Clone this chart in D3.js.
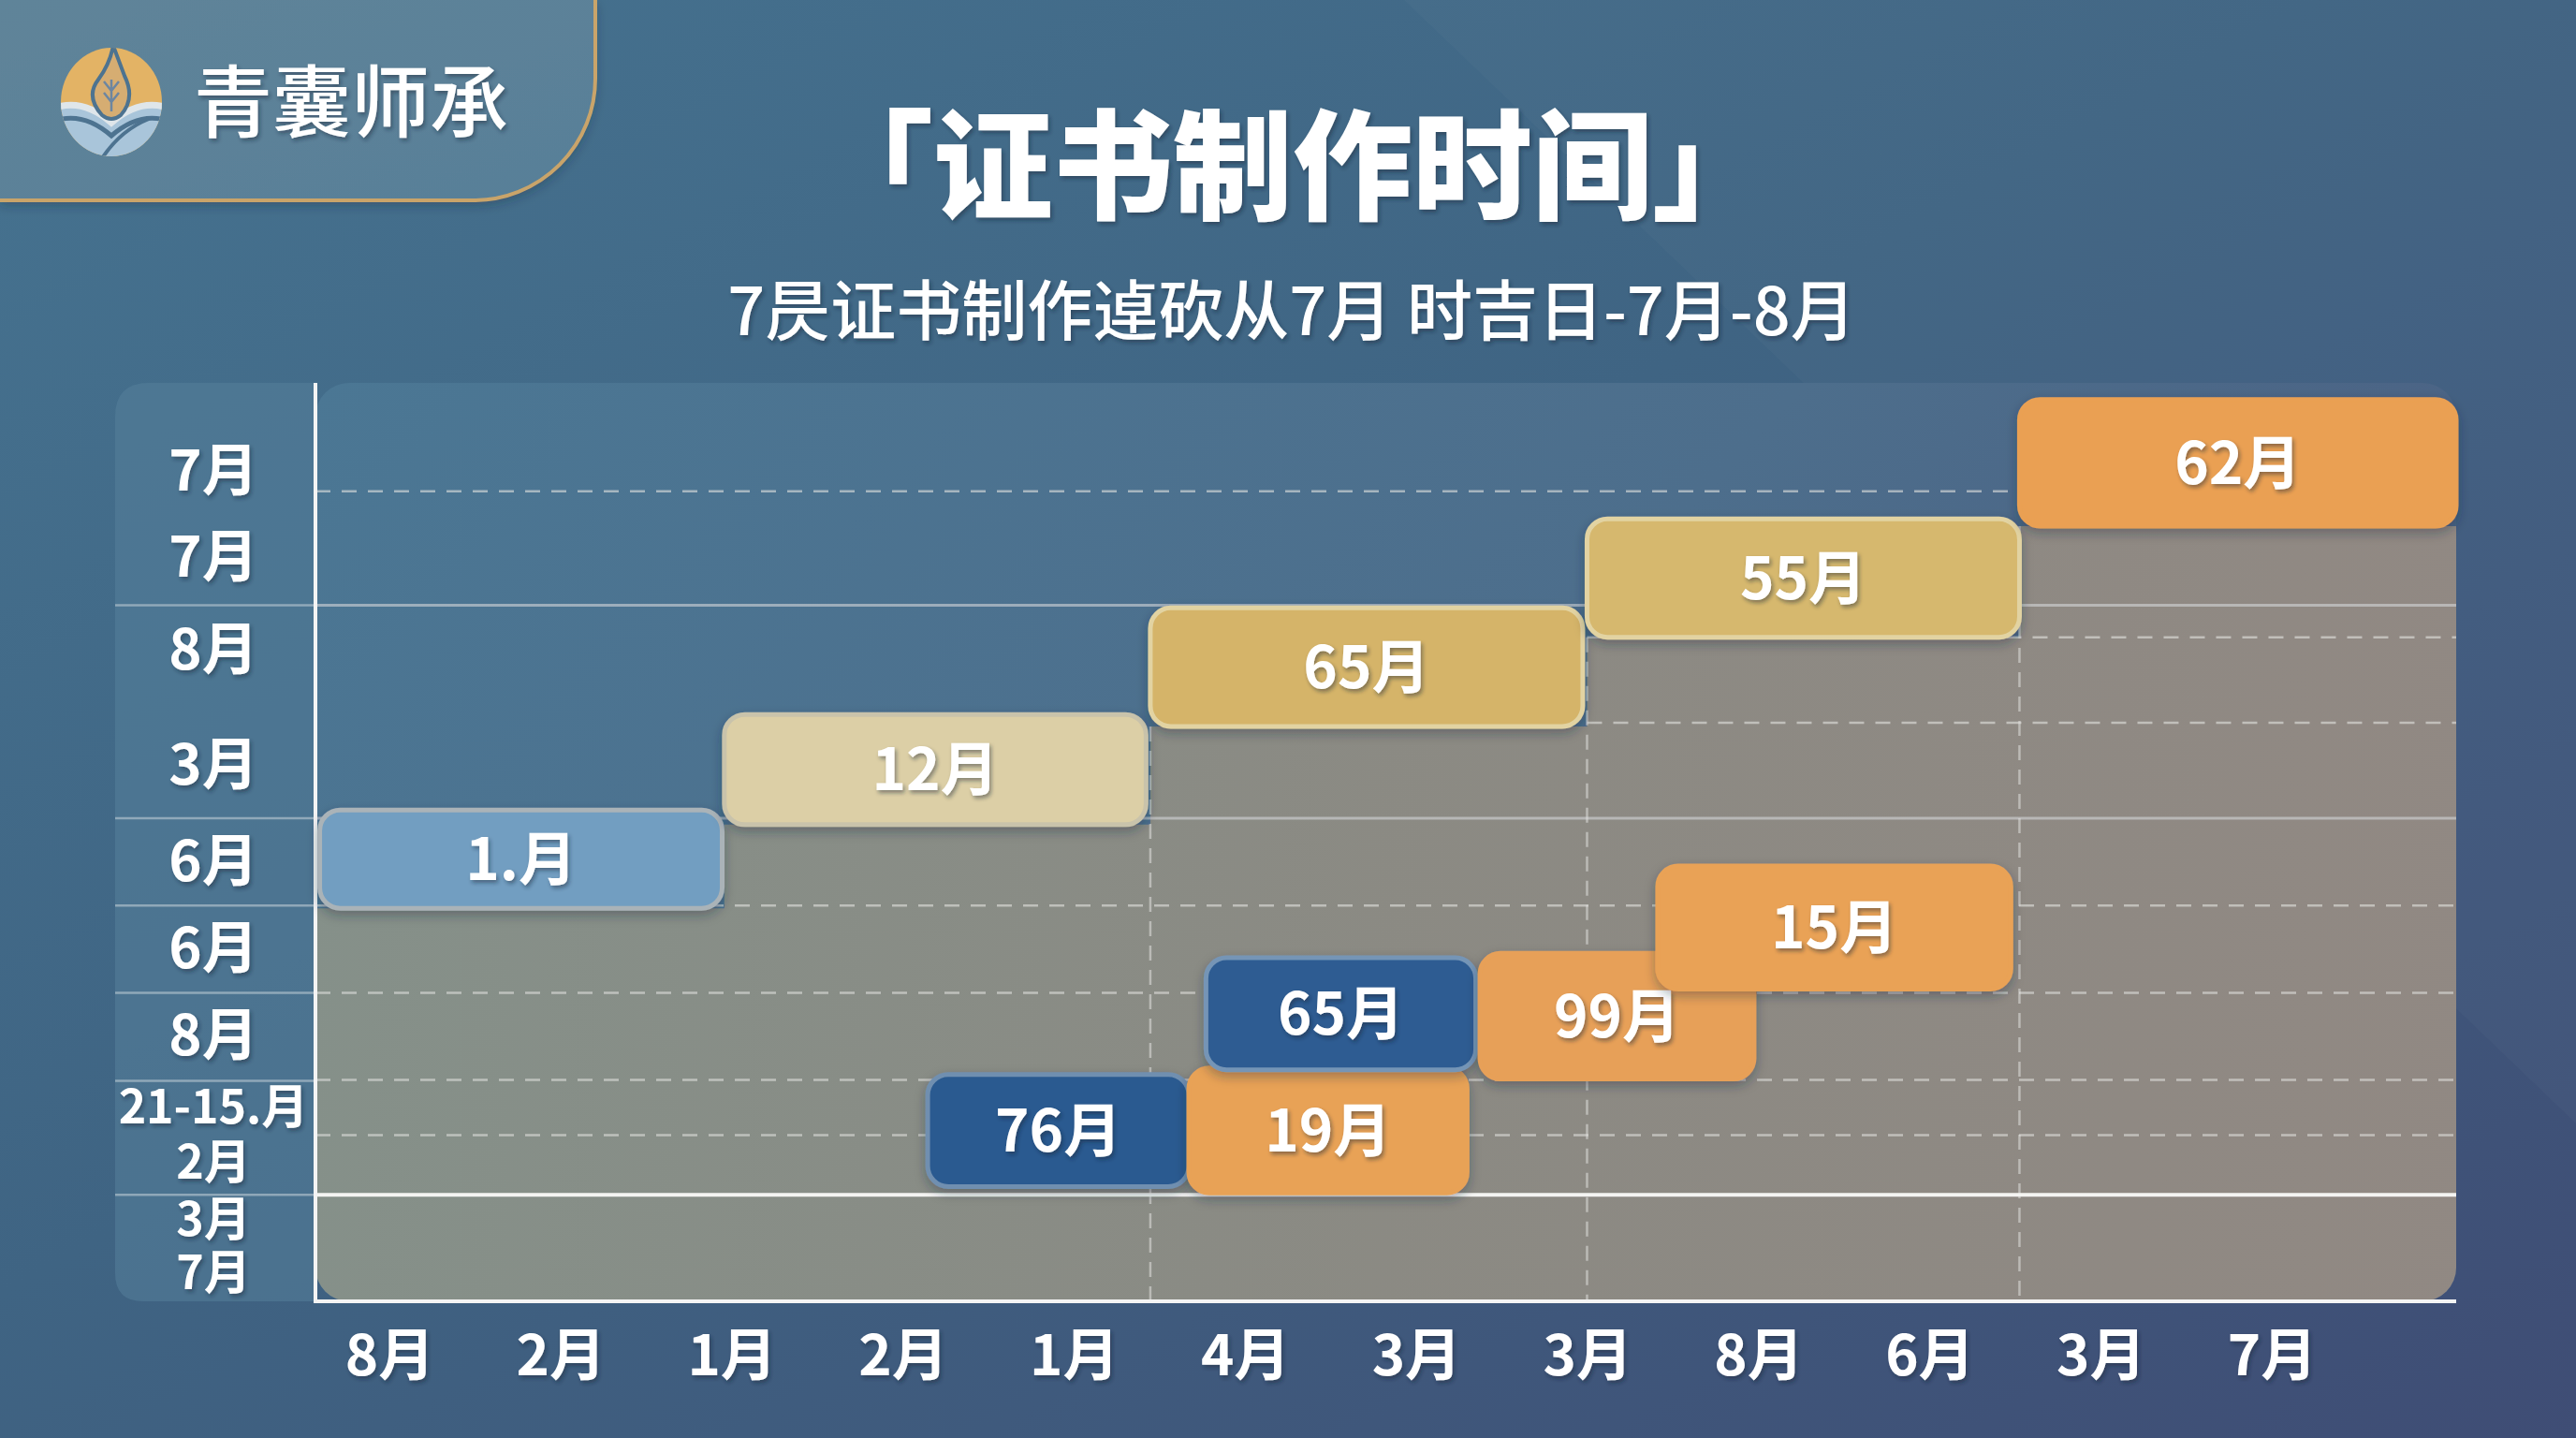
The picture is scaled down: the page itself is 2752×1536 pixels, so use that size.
<!DOCTYPE html>
<html>
<head>
<meta charset="utf-8">
<title>证书制作时间</title>
<style>
    body { margin: 0; background: #3f6584; }
    svg { display: block; }
    .ylab text, .xlab text {
        font-family: "Noto Sans CJK SC", "Noto Sans", sans-serif;
        font-weight: 700;
        fill: #ffffff;
    }
</style>
</head>
<body>
<script src="https://cdn.jsdelivr.net/npm/d3@7/dist/d3.min.js"></script>
<script type="text/javascript">
    // ---- data ----
    var yTickLabels = ["7月", "7月", "8月", "3月", "6月", "6月", "8月", "21-15.月", "2月", "3月", "7月"];
    var yTickValues = [9.03, 8.09, 7.08, 5.83, 4.78, 3.83, 2.88, 2.10, 1.50, 0.88, 0.30];
    var xTickLabels = ["8月", "2月", "1月", "2月", "1月", "4月", "3月", "3月", "8月", "6月", "3月", "7月"];

    // upper staircase of bars
    var stepLabels = ["1.月", "12月", "65月", "55月", "62月"];
    var stepStart = [0.01, 0.955, 1.95, 2.97, 3.98];
    var stepEnd = [0.95, 1.94, 2.96, 3.98, 5.0];
    var stepTop = [5.35, 6.39, 7.55, 8.52, 9.82];
    var stepBottom = [4.28, 5.19, 6.26, 7.23, 8.44];
    var stepColors = ["#729ec1", "#dccfa6", "#d5b469", "#d6b86e", "#eaa052"];
    var stepStroke = ["#aab3b8", "#c9c3ab", "#e2d3a2", "#e2d3a2", "#eaa052"];

    // lower bars
    var lowLabels = ["76月", "19月", "65月", "99月", "15月"];
    var lowStart = [1.43, 2.04, 2.08, 2.72, 3.135];
    var lowEnd = [2.04, 2.69, 2.71, 3.36, 3.96];
    var lowTop = [2.47, 2.54, 3.74, 3.79, 4.74];
    var lowBottom = [1.25, 1.18, 2.52, 2.42, 3.40];
    var lowColors = ["#2c5a90", "#e8a257", "#2d5c92", "#e7a058", "#e9a256"];
    var lowStroke = ["#6f8fb0", "#e8a257", "#7595b6", "#e7a058", "#e9a256"];

    // grid rows
    var columnRows = [7.58, 5.26, 4.31, 3.36, 2.40, 1.16];
    var plotSolidRows = [7.58, 5.26];
    var dashRows = [8.82, 7.23, 6.30, 4.31, 3.36, 2.41, 1.81];
    var dashFrom = [0, 2.97, 2.97, 0, 0, 0, 0];
    var baseRow = 1.16;

    // ---- layout ----
    var W = 2752, H = 1536;
    var panelLeft = 123, plotLeft = 337, plotRight = 2624, plotTop = 409, plotBottom = 1390;
    var font = '"Noto Sans CJK SC", "Noto Sans", sans-serif';

    var x = d3.scaleLinear().domain([0, 5]).range([plotLeft, plotRight]);
    var y = d3.scaleLinear().domain([0, 10]).range([plotBottom, plotTop]);
    var xLab = d3.scalePoint().domain(d3.range(xTickLabels.length)).range([416, 2427]);

    var svg = d3.select("body").append("svg")
        .attr("width", W)
        .attr("height", H);

    var defs = svg.append("defs");

    var bg = defs.append("linearGradient").attr("id", "bg")
        .attr("x1", 0).attr("y1", 0).attr("x2", 1).attr("y2", 1);
    bg.append("stop").attr("offset", 0).attr("stop-color", "#467390");
    bg.append("stop").attr("offset", 0.45).attr("stop-color", "#3f6483");
    bg.append("stop").attr("offset", 1).attr("stop-color", "#3f4d75");

    var plotBlue = defs.append("linearGradient").attr("id", "plotBlue")
        .attr("x1", 0).attr("y1", 0).attr("x2", 1).attr("y2", 0.4);
    plotBlue.append("stop").attr("offset", 0).attr("stop-color", "#4b7794");
    plotBlue.append("stop").attr("offset", 0.6).attr("stop-color", "#4d6e8c");
    plotBlue.append("stop").attr("offset", 1).attr("stop-color", "#4a5f82");

    var grayFill = defs.append("linearGradient").attr("id", "grayFill")
        .attr("x1", 0).attr("y1", 0).attr("x2", 1).attr("y2", 0);
    grayFill.append("stop").attr("offset", 0).attr("stop-color", "#879189");
    grayFill.append("stop").attr("offset", 0.5).attr("stop-color", "#8d8b83");
    grayFill.append("stop").attr("offset", 1).attr("stop-color", "#938a83");

    var logoBg = defs.append("linearGradient").attr("id", "logoBg")
        .attr("x1", 0).attr("y1", 0).attr("x2", 1).attr("y2", 1);
    logoBg.append("stop").attr("offset", 0).attr("stop-color", "#5f8499");
    logoBg.append("stop").attr("offset", 1).attr("stop-color", "#587f98");

    var shadow = defs.append("filter").attr("id", "shadow")
        .attr("x", "-20%").attr("y", "-30%").attr("width", "140%").attr("height", "170%");
    shadow.append("feDropShadow").attr("dx", 0).attr("dy", 5).attr("stdDeviation", 6)
        .attr("flood-color", "#1d2a3a").attr("flood-opacity", 0.35);

    var textShadow = defs.append("filter").attr("id", "textShadow")
        .attr("x", "-10%").attr("y", "-20%").attr("width", "120%").attr("height", "150%");
    textShadow.append("feDropShadow").attr("dx", 2).attr("dy", 3).attr("stdDeviation", 2)
        .attr("flood-color", "#1c2633").attr("flood-opacity", 0.45);

    defs.append("clipPath").attr("id", "plotClip")
        .append("rect")
        .attr("x", plotLeft).attr("y", plotTop)
        .attr("width", plotRight - plotLeft).attr("height", plotBottom - plotTop)
        .attr("rx", 36);

    // background
    svg.append("rect").attr("width", W).attr("height", H).attr("fill", "url(#bg)");
    svg.append("path")
        .attr("d", "M1500,0 L2752,0 L2752,1200 Z")
        .attr("fill", "#ffffff").attr("opacity", 0.025);

    // ---- logo panel ----
    svg.append("path")
        .attr("d", "M0,0 H636 V84 A130,130 0 0 1 506,214 H0 Z")
        .attr("fill", "url(#logoBg)")
        .attr("filter", "url(#shadow)");
    svg.append("path")
        .attr("d", "M636,0 V84 A130,130 0 0 1 506,214 H0")
        .attr("fill", "none")
        .attr("stroke", "#c9a46a")
        .attr("stroke-width", 4);

    var logo = svg.append("g").attr("transform", "translate(119,109)");
    defs.append("clipPath").attr("id", "logoClip")
        .append("ellipse").attr("cx", 0).attr("cy", 0).attr("rx", 54).attr("ry", 58);
    var lg = logo.append("g").attr("clip-path", "url(#logoClip)");
    lg.append("rect").attr("x", -60).attr("y", -60).attr("width", 120).attr("height", 120).attr("fill", "#e3b365");
    lg.append("path").attr("d", "M-60,6 Q-30,-4 0,22 Q30,-4 60,6 V60 H-60 Z").attr("fill", "#a9c5da");
    lg.append("path").attr("d", "M-60,6 Q-30,-4 0,22 Q30,-4 60,6").attr("fill", "none")
        .attr("stroke", "#dfe6ea").attr("stroke-width", 7);
    lg.append("path").attr("d", "M-60,20 Q-30,10 0,36 Q30,10 60,20").attr("fill", "none")
        .attr("stroke", "#4d7390").attr("stroke-width", 5);
    lg.append("path").attr("d", "M-10,60 Q10,30 40,18").attr("fill", "none")
        .attr("stroke", "#4d7390").attr("stroke-width", 4);
    lg.append("path").attr("d", "M2,-60 Q-2,-40 -14,-24 Q-28,-6 -10,14 Q0,22 10,14 Q26,-4 14,-28 Q8,-44 2,-60 Z")
        .attr("fill", "#d6ad72").attr("stroke", "#4d7390").attr("stroke-width", 4);
    lg.append("path").attr("d", "M0,10 L0,-24 M-8,-10 L0,0 L8,-10 M-8,-22 L0,-12 L8,-22")
        .attr("fill", "none").attr("stroke", "#6d86a0").attr("stroke-width", 2.5);

    svg.append("text")
        .attr("x", 207).attr("y", 140)
        .style("font-family", font).style("font-size", "84px").style("font-weight", 500)
        .style("fill", "#ffffff")
        .attr("filter", "url(#textShadow)")
        .text("青囊师承");

    // ---- title ----
    svg.append("text")
        .attr("x", 1381).attr("y", 225)
        .attr("text-anchor", "middle")
        .style("font-family", font).style("font-size", "128px").style("font-weight", 900)
        .style("fill", "#ffffff")
        .attr("filter", "url(#textShadow)")
        .text("「证书制作时间」");

    svg.append("text")
        .attr("x", 1380).attr("y", 358)
        .attr("text-anchor", "middle")
        .style("font-family", font).style("font-size", "70px").style("font-weight", 500)
        .style("fill", "#ffffff")
        .attr("filter", "url(#textShadow)")
        .text("7昃证书制作逴砍从7月 时吉日-7月-8月");

    // ---- chart panel ----
    svg.append("path")
        .attr("d", "M" + panelLeft + "," + (plotTop + 36) + " Q" + panelLeft + "," + plotTop + " " + (panelLeft + 36) + "," + plotTop +
            " H" + plotLeft + " V" + plotBottom + " H" + (panelLeft + 30) + " Q" + panelLeft + "," + plotBottom + " " + panelLeft + "," + (plotBottom - 30) + " Z")
        .attr("fill", "#55809b").attr("opacity", 0.55);

    var plot = svg.append("g").attr("clip-path", "url(#plotClip)");
    plot.append("rect")
        .attr("x", plotLeft).attr("y", plotTop)
        .attr("width", plotRight - plotLeft).attr("height", plotBottom - plotTop)
        .attr("fill", "url(#plotBlue)");

    // gray step area under the staircase
    var stepPts = stepStart.map(function (s, i) {
        return { x: i === 0 ? 0 : s, b: stepBottom[i] };
    });
    stepPts.push({ x: 5, b: stepBottom[stepBottom.length - 1] });
    var area = d3.area()
        .curve(d3.curveStepAfter)
        .x(function (d) { return x(d.x); })
        .y0(y(0))
        .y1(function (d) { return y(d.b); });
    plot.append("path").datum(stepPts).attr("d", area).attr("fill", "url(#grayFill)").attr("opacity", 0.97);

    // grid lines in the label column
    svg.selectAll(".colRow").data(columnRows).enter().append("line")
        .attr("x1", panelLeft).attr("x2", plotLeft)
        .attr("y1", function (d) { return y(d); }).attr("y2", function (d) { return y(d); })
        .attr("stroke", "#c9d3da").attr("stroke-opacity", 0.55).attr("stroke-width", 2.5);

    plot.selectAll(".solidRow").data(plotSolidRows).enter().append("line")
        .attr("x1", plotLeft).attr("x2", plotRight)
        .attr("y1", function (d) { return y(d); }).attr("y2", function (d) { return y(d); })
        .attr("stroke", "#d3d6d8").attr("stroke-opacity", 0.6).attr("stroke-width", 3);

    plot.selectAll(".dashRow").data(dashRows).enter().append("line")
        .attr("x1", function (d, i) { return x(dashFrom[i]); }).attr("x2", plotRight)
        .attr("y1", function (d) { return y(d); }).attr("y2", function (d) { return y(d); })
        .attr("stroke", "#e2e2e0").attr("stroke-opacity", 0.6).attr("stroke-width", 2.5)
        .attr("stroke-dasharray", "16,12");

    // vertical dashed lines at staircase boundaries
    plot.selectAll(".vDash").data(stepStart.slice(2)).enter().append("line")
        .attr("x1", function (d) { return x(d); }).attr("x2", function (d) { return x(d); })
        .attr("y1", function (d, i) { return y(stepBottom[i + 2]); }).attr("y2", plotBottom)
        .attr("stroke", "#e2e2e0").attr("stroke-opacity", 0.55).attr("stroke-width", 2.5)
        .attr("stroke-dasharray", "16,10");

    // base line
    svg.append("line")
        .attr("x1", plotLeft).attr("x2", plotRight)
        .attr("y1", y(baseRow)).attr("y2", y(baseRow))
        .attr("stroke", "#f4f4f2").attr("stroke-width", 4);

    // axes lines
    svg.append("line")
        .attr("x1", plotLeft).attr("x2", plotLeft).attr("y1", plotTop).attr("y2", plotBottom + 2)
        .attr("stroke", "#f4f4f4").attr("stroke-width", 4);
    svg.append("line")
        .attr("x1", plotLeft).attr("x2", plotRight).attr("y1", plotBottom).attr("y2", plotBottom)
        .attr("stroke", "#f4f4f4").attr("stroke-width", 4);

    // ---- bars ----
    function drawBars(labels, starts, ends, tops, bottoms, colors, strokes) {
        var rows = labels.map(function (l, i) {
            return { label: l, s: starts[i], e: ends[i], t: tops[i], b: bottoms[i], c: colors[i], k: strokes[i] };
        });
        var g = svg.append("g");
        var bars = g.selectAll("g").data(rows).enter().append("g");
        bars.append("rect")
            .attr("x", function (d) { return x(d.s); })
            .attr("y", function (d) { return y(d.t); })
            .attr("width", function (d) { return x(d.e) - x(d.s); })
            .attr("height", function (d) { return y(d.b) - y(d.t); })
            .attr("rx", 22)
            .attr("fill", function (d) { return d.c; })
            .attr("stroke", function (d) { return d.k; })
            .attr("stroke-width", 5)
            .attr("filter", "url(#shadow)");
        bars.append("text")
            .attr("x", function (d) { return (x(d.s) + x(d.e)) / 2; })
            .attr("y", function (d) { return (y(d.t) + y(d.b)) / 2; })
            .attr("dy", "0.36em")
            .attr("text-anchor", "middle")
            .style("font-family", font).style("font-size", "62px").style("font-weight", 700)
            .style("fill", "#ffffff")
            .attr("filter", "url(#textShadow)")
            .text(function (d) { return d.label; });
    }
    drawBars(stepLabels, stepStart, stepEnd, stepTop, stepBottom, stepColors, stepStroke);
    drawBars(lowLabels, lowStart, lowEnd, lowTop, lowBottom, lowColors, lowStroke);

    // ---- y labels ----
    var yAxis = d3.axisLeft(y)
        .tickValues(yTickValues)
        .tickFormat(function (d, i) { return yTickLabels[i]; })
        .tickSize(0);
    var yg = svg.append("g").attr("class", "ylab")
        .attr("transform", "translate(" + plotLeft + ",0)")
        .call(yAxis);
    yg.select(".domain").remove();
    yg.selectAll("text")
        .attr("x", -109)
        .attr("text-anchor", "middle")
        .style("font-size", function (d) { return d < 2.5 ? "50px" : "60px"; })
        .attr("filter", "url(#textShadow)");

    // ---- x labels ----
    var xAxis = d3.axisBottom(xLab)
        .tickFormat(function (d) { return xTickLabels[d]; })
        .tickSize(0)
        .tickPadding(36);
    var xg = svg.append("g").attr("class", "xlab")
        .attr("transform", "translate(0," + plotBottom + ")")
        .call(xAxis);
    xg.select(".domain").remove();
    xg.selectAll("text")
        .style("font-size", "60px")
        .attr("filter", "url(#textShadow)");
</script>
</body>
</html>
